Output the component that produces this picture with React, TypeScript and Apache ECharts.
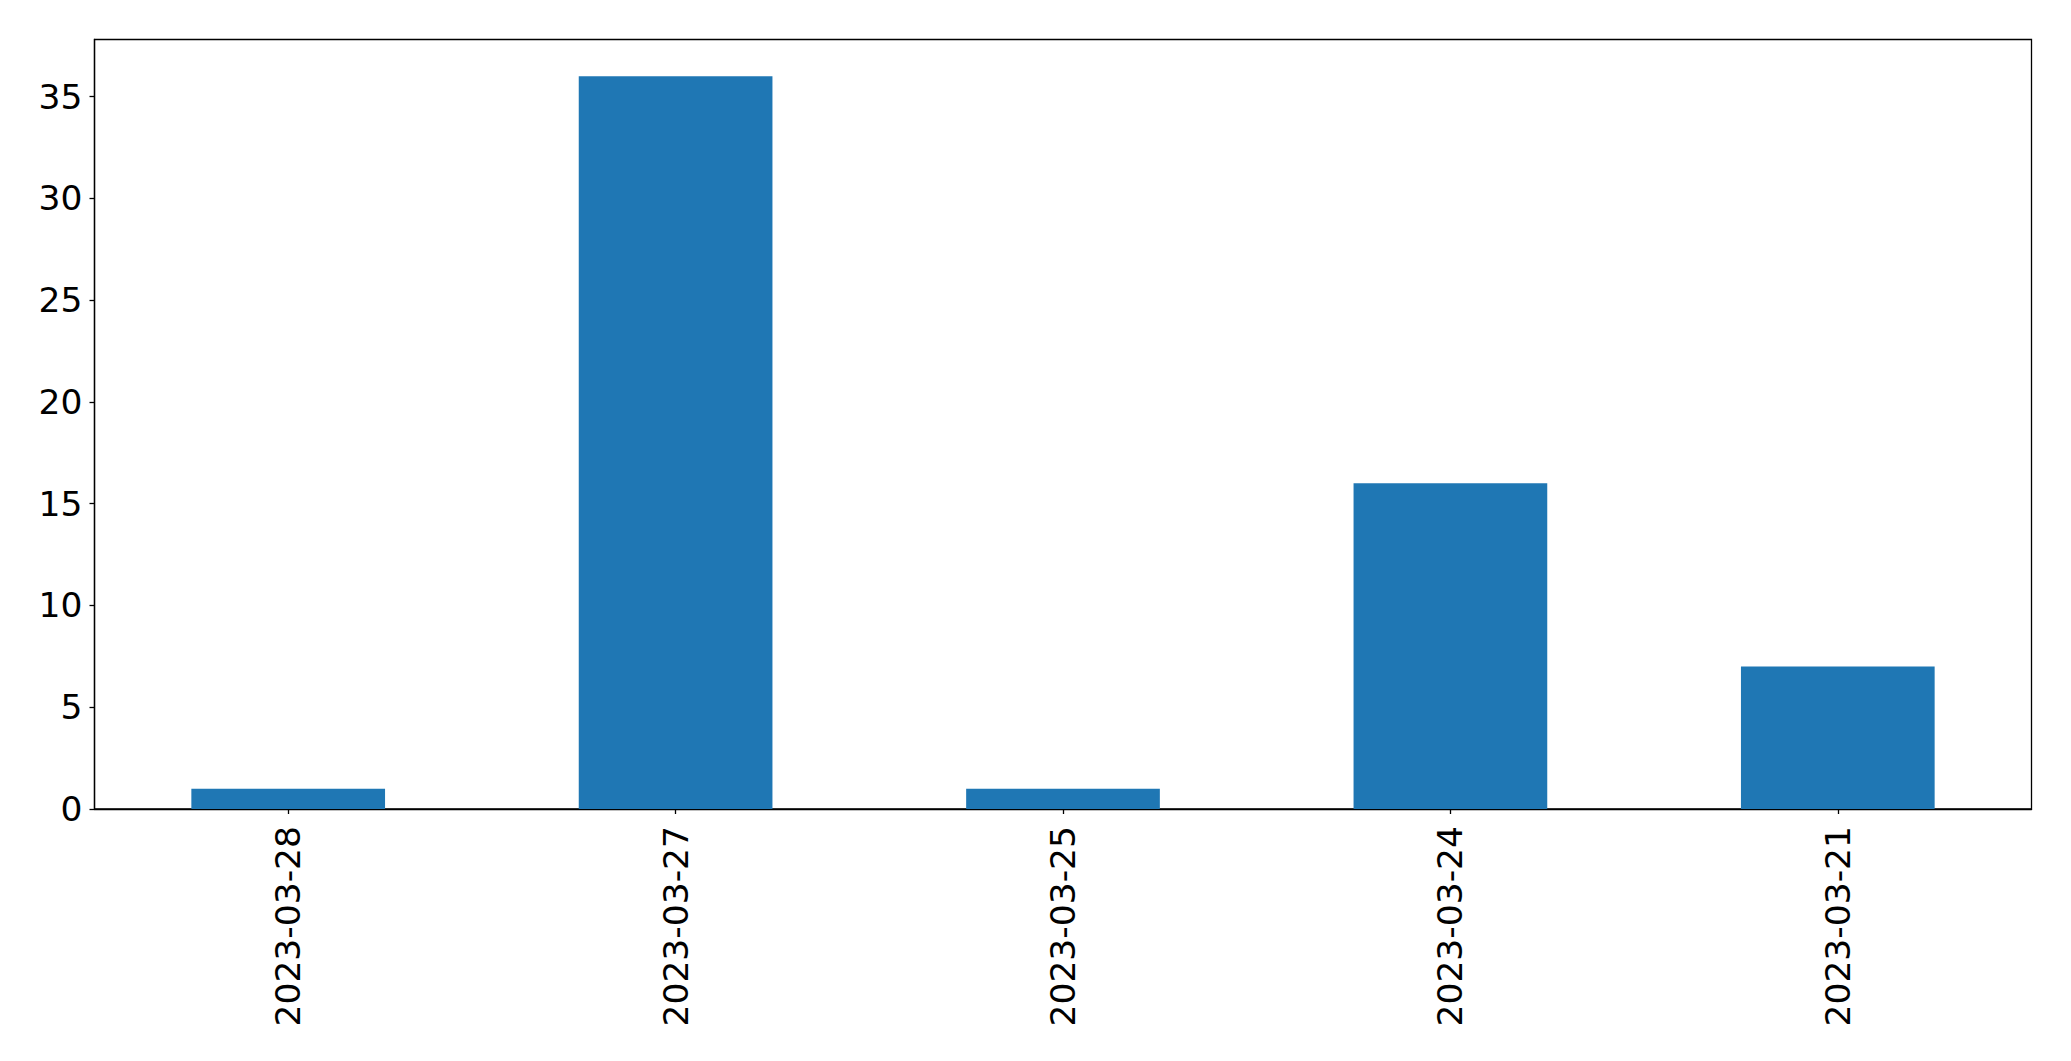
import React, { useEffect, useRef } from "react";
import * as echarts from "echarts";

const categories = ["2023-03-28", "2023-03-27", "2023-03-25", "2023-03-24", "2023-03-21"];
const values = [1, 36, 1, 16, 7];

export default function App() {
  const ref = useRef<HTMLDivElement>(null);
  useEffect(() => {
    const chart = echarts.init(ref.current!, null, { renderer: "svg" });
    chart.setOption({
      animation: false,
      grid: {
        left: 94.5,
        top: 39.5,
        right: 39.5,
        bottom: 252,
        show: true,
        borderColor: "#000",
        borderWidth: 1.3,
        backgroundColor: "transparent",
      },
      xAxis: {
        type: "category",
        data: categories,
        boundaryGap: true,
        axisLine: { show: true, lineStyle: { color: "#000", width: 1.3 } },
        axisTick: { show: true, alignWithLabel: true, length: 5, lineStyle: { color: "#000", width: 1.3 } },
        axisLabel: {
          rotate: 90,
          margin: 17,
          color: "#000",
          fontSize: 34.5,
          fontFamily: "DejaVu Sans",
        },
        splitLine: { show: false },
      },
      yAxis: {
        type: "value",
        min: 0,
        max: 37.8,
        interval: 5,
        axisLine: { show: true, lineStyle: { color: "#000", width: 1.3 } },
        axisTick: { show: true, length: 5, lineStyle: { color: "#000", width: 1.3 } },
        axisLabel: {
          margin: 12,
          color: "#000",
          fontSize: 34.5,
          fontFamily: "DejaVu Sans",
          showMaxLabel: false,
        },
        splitLine: { show: false },
      },
      series: [
        {
          type: "bar",
          data: values,
          barWidth: "50%",
          itemStyle: { color: "#1f77b4" },
        },
      ],
    });
    return () => chart.dispose();
  }, []);
  return <div ref={ref} style={{ width: 2071, height: 1061, position: "absolute", left: 0, top: 0 }} />;
}
